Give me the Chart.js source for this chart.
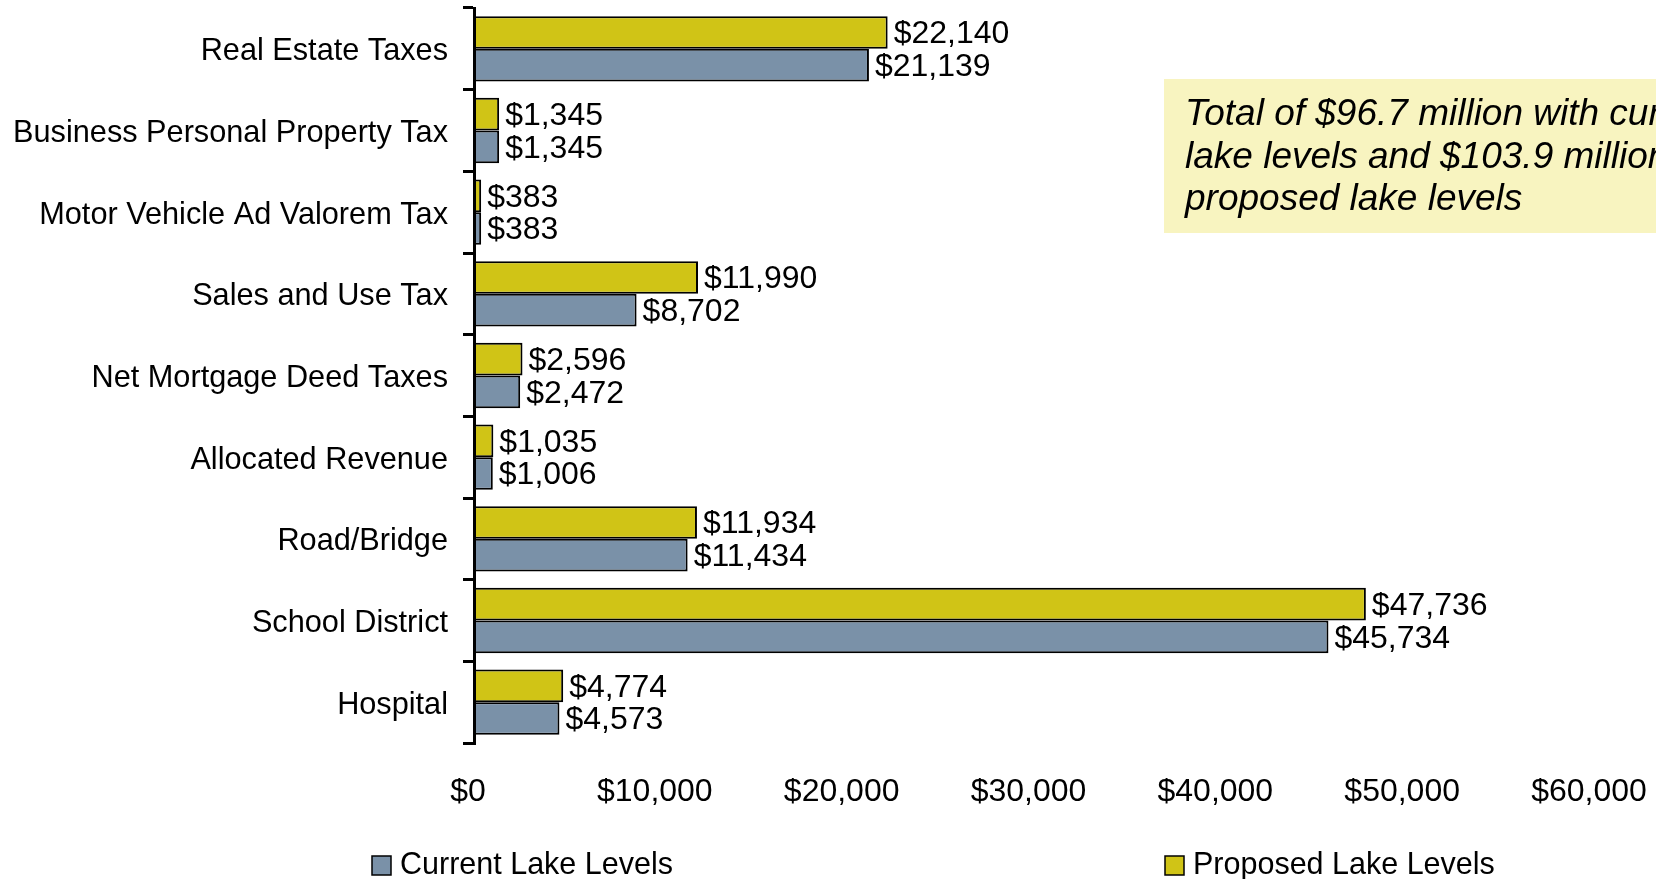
<!DOCTYPE html>
<html>
<head>
<meta charset="utf-8">
<script src="https://cdn.jsdelivr.net/npm/chart.js@4/dist/chart.umd.min.js"></script>
<style>
  html, body { margin: 0; padding: 0; background: #fff; }
  #wrap { width: 1656px; height: 879px; position: relative; }
</style>
</head>
<body>
<div id="wrap"><canvas id="chart"></canvas></div>
<script>
// Revenue by source, in thousands of dollars
const categories = [
  "Real Estate Taxes",
  "Business Personal Property Tax",
  "Motor Vehicle Ad Valorem Tax",
  "Sales and Use Tax",
  "Net Mortgage Deed Taxes",
  "Allocated Revenue",
  "Road/Bridge",
  "School District",
  "Hospital"
];
const currentLevels = [21139, 1345, 383, 8702, 2472, 1006, 11434, 45734, 4573];
const proposedLevels = [22140, 1345, 383, 11990, 2596, 1035, 11934, 47736, 4774];
const xTickValues = [0, 10000, 20000, 30000, 40000, 50000, 60000];
const noteLines = [
  "Total of $96.7 million with current",
  "lake levels and $103.9 million with",
  "proposed lake levels"
];

const FONT = "'Liberation Sans', Arial, sans-serif";
const money = v => "$" + v.toLocaleString("en-US");

// labels at the end of each bar
const valueLabels = {
  id: "valueLabels",
  afterDatasetsDraw(chart) {
    const ctx = chart.ctx;
    ctx.save();
    ctx.font = "32px " + FONT;
    ctx.fillStyle = "#000";
    ctx.textAlign = "left";
    ctx.textBaseline = "middle";
    chart.data.datasets.forEach((ds, i) => {
      chart.getDatasetMeta(i).data.forEach((bar, j) => {
        ctx.fillText(money(ds.data[j]), bar.x + 6, bar.y + 2);
      });
    });
    ctx.restore();
  }
};

// yellow note box on the right
const noteBox = {
  id: "noteBox",
  beforeDatasetsDraw(chart) {
    const ctx = chart.ctx;
    ctx.save();
    ctx.fillStyle = "#F8F4C0";
    ctx.fillRect(1164, 79, chart.width - 1164, 154);
    ctx.font = "italic 37px " + FONT;
    ctx.fillStyle = "#000";
    ctx.textBaseline = "alphabetic";
    noteLines.forEach((line, i) => {
      ctx.fillText(line, 1185, 125 + i * 42.5);
    });
    ctx.restore();
  }
};

// legend spread along the bottom, current first
const bottomLegend = {
  id: "bottomLegend",
  afterDraw(chart) {
    const ctx = chart.ctx;
    const items = [
      { ds: chart.data.datasets[1], x: 372 },
      { ds: chart.data.datasets[0], x: 1165 }
    ];
    ctx.save();
    ctx.font = "30.5px " + FONT;
    ctx.textBaseline = "middle";
    items.forEach(it => {
      ctx.fillStyle = it.ds.backgroundColor;
      ctx.fillRect(it.x, 856, 19, 19);
      ctx.strokeStyle = "#000";
      ctx.lineWidth = 1.5;
      ctx.strokeRect(it.x, 856, 19, 19);
      ctx.fillStyle = "#000";
      ctx.fillText(it.ds.label, it.x + 28, 866);
    });
    ctx.restore();
  }
};

Chart.defaults.font.family = FONT;
Chart.defaults.font.size = 31;
Chart.defaults.color = "#000";

new Chart(document.getElementById("chart"), {
  type: "bar",
  data: {
    labels: categories,
    datasets: [
      {
        label: "Proposed Lake Levels",
        data: proposedLevels,
        backgroundColor: "#D0C416",
        borderColor: "#000",
        borderWidth: 2,
        borderSkipped: false,
        categoryPercentage: 0.8,
        barPercentage: 1.0
      },
      {
        label: "Current Lake Levels",
        data: currentLevels,
        backgroundColor: "#7A91A8",
        borderColor: "#000",
        borderWidth: 2,
        borderSkipped: false,
        categoryPercentage: 0.8,
        barPercentage: 1.0
      }
    ]
  },
  options: {
    indexAxis: "y",
    responsive: true,
    maintainAspectRatio: false,
    animation: false,
    layout: { padding: { top: 8, bottom: 71, left: 0, right: 0 } },
    plugins: {
      legend: { display: false },
      tooltip: { enabled: false }
    },
    scales: {
      x: {
        min: 0,
        max: 60000,
        afterBuildTicks(scale) {
          scale.ticks = xTickValues.map(v => ({ value: v }));
        },
        afterFit(scale) {
          scale.paddingRight = 61;
          scale.height = 65;
        },
        grid: { display: false, drawTicks: false },
        border: { display: false },
        ticks: {
          padding: 30,
          labelOffset: -6,
          maxRotation: 0,
          font: { size: 32 },
          callback: v => money(v)
        }
      },
      y: {
        afterFit(scale) {
          scale.width = 474;
          scale.paddingTop = 0;
          scale.paddingBottom = 0;
        },
        grid: {
          offset: true,
          drawOnChartArea: false,
          color: "#000",
          lineWidth: 3,
          tickLength: 11
        },
        border: { display: true, color: "#000", width: 3 },
        ticks: { padding: 15, labelOffset: 3, autoSkip: false, font: { size: 30.7 } }
      }
    }
  },
  plugins: [valueLabels, noteBox, bottomLegend]
});
</script>
</body>
</html>
